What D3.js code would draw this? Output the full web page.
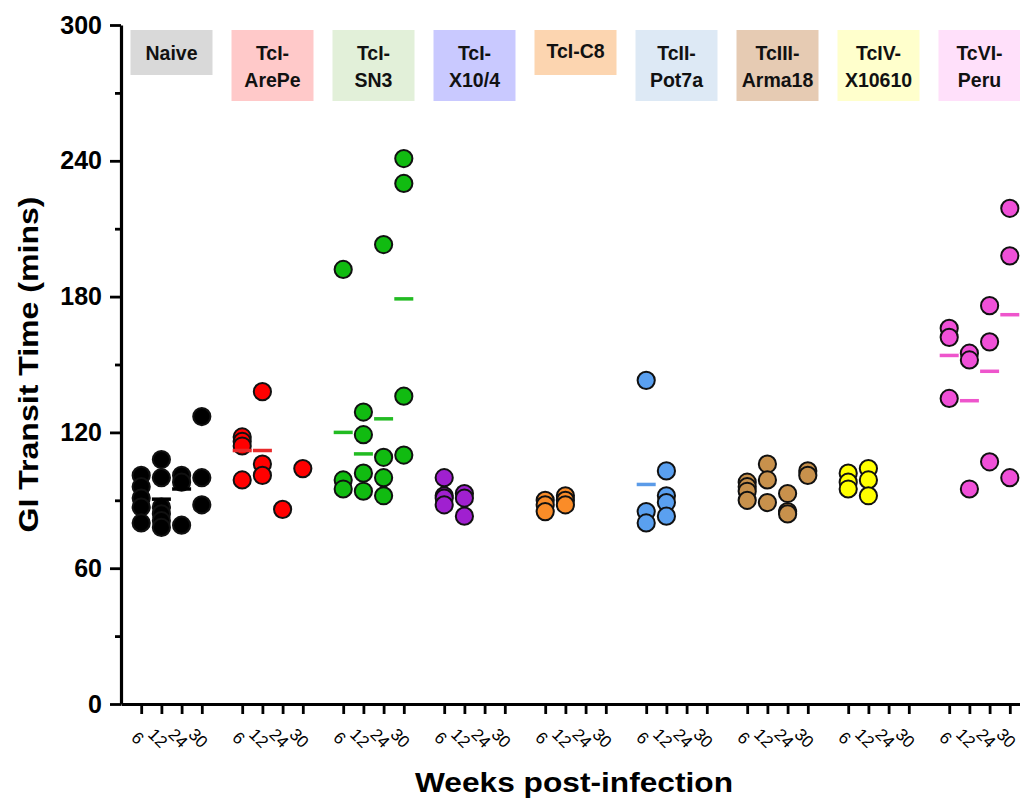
<!DOCTYPE html>
<html>
<head>
<meta charset="utf-8">
<script src="https://cdn.jsdelivr.net/npm/d3@7"></script>
<style>
  body { margin: 0; background: #fff; }
  svg { display: block; font-family: "Liberation Sans", Arial, Helvetica, sans-serif; }
</style>
</head>
<body>
<div id="chart"></div>
<script>
// week labels under each group, and the strain groups
var weeks = ["6", "12", "24", "30"];
var groupLines = [["Naive"], ["TcI-", "ArePe"], ["TcI-", "SN3"], ["TcI-", "X10/4"], ["TcI-C8"],
                  ["TcII-", "Pot7a"], ["TcIII-", "Arma18"], ["TcIV-", "X10610"], ["TcVI-", "Peru"]];
var boxColors = ["#d9d9d9", "#ffc9c9", "#e2f0d9", "#c9c9ff", "#fcd5b0", "#dde9f5", "#e6cbb3", "#ffffcc", "#ffe0fa"];
var dotColors = ["#000000", "#ff0000", "#11bb11", "#a020d0", "#fa8c28", "#5aa0f0", "#c8914c", "#ffff00", "#f050d8"];
var lineColors = ["#000000", "#e8292a", "#22bb22", "#a020d0", "#fa8c28", "#5b9be8", "#c8914c", "#e6e600", "#ee55cc"];

var yMajor = [0, 60, 120, 180, 240, 300];
var yMinor = [30, 90, 150, 210, 270];

// GI transit time (mins), one list per week: 6, 12, 24, 30
var naive  = [[101, 96, 91, 87, 80], [108, 100, 87, 84, 81, 78], [101, 98, 79], [127, 100, 88]];
var arePe  = [[118, 116, 114, 99], [138, 106, 101], [86], [104]];
var sn3    = [[192, 99, 95], [129, 119, 102, 94], [203, 109, 100, 92], [241, 230, 136, 110]];
var x104   = [[100, 92, 91, 88], [93, 91, 83], [], []];
var c8     = [[90, 88, 85], [92, 90, 88], [], []];
var pot7a  = [[143, 85, 80], [103, 92, 89, 83], [], []];
var arma18 = [[98, 96, 94, 90], [106, 99, 89], [93, 85, 84], [103, 101]];
var x10610 = [[102, 98, 95], [104, 99, 92], [], []];
var peru   = [[166, 162, 135], [155, 152, 95], [176, 160, 107], [219, 198, 100]];

// group means as drawn (null where no bar is visible)
var naiveMeans  = [null, 90.5, 95, null];
var arePeMeans  = [112, 112, null, null];
var sn3Means    = [120, 110.5, 126, 179];
var pot7aMeans  = [97, null, null, null];
var peruMeans   = [154, 134, 147, 172];
var noMeans     = [null, null, null, null];

var allGroups = [naive, arePe, sn3, x104, c8, pot7a, arma18, x10610, peru];
var allMeans = [naiveMeans, arePeMeans, sn3Means, noMeans, noMeans, pot7aMeans, noMeans, noMeans, peruMeans];

var width = 1020, height = 802;

var svg = d3.select("#chart").append("svg")
    .attr("width", width)
    .attr("height", height);

svg.append("rect").attr("width", width).attr("height", height).attr("fill", "#fff");

// 5 slots per group: 4 weeks + a gap
var x = d3.scaleLinear().domain([-1, 44]).range([121, 1030]);
var y = d3.scaleLinear().domain([0, 300]).range([704, 25]);

function pos(g, w) { return g * 5 + w; }

var points = [];
var means = [];
allGroups.forEach(function(group, g) {
    group.forEach(function(vals, w) {
        vals.forEach(function(v) { points.push({ g: g, w: w, v: v }); });
        if (allMeans[g][w] != null) means.push({ g: g, w: w, v: allMeans[g][w] });
    });
});

// legend boxes on top
var boxes = svg.selectAll(".box")
    .data(groupLines)
    .enter().append("g")
    .attr("class", "box");

boxes.append("rect")
    .attr("x", function(d, i) { return x(pos(i, 1.5)) - 41; })
    .attr("y", 30)
    .attr("width", 82)
    .attr("height", function(d) { return d.length == 1 ? 45 : 71; })
    .attr("fill", function(d, i) { return boxColors[i]; });

boxes.each(function(lines, i) {
    var cx = x(pos(i, 1.5));
    d3.select(this).selectAll("text")
        .data(lines)
        .enter().append("text")
        .attr("x", cx)
        .attr("y", function(d, j) { return (lines.length == 1 && i == 4 ? 58 : 60) + j * 27; })
        .attr("text-anchor", "middle")
        .attr("font-size", "19.5px")
        .attr("font-weight", "bold")
        .attr("fill", "#111")
        .text(function(d) { return d; });
});

// y axis
var yAxis = svg.append("g")
    .attr("transform", "translate(" + x(-1) + ",0)")
    .call(d3.axisLeft(y).tickValues(yMajor).tickSize(11).tickSizeOuter(0).tickPadding(8));
yAxis.select(".domain").attr("stroke-width", 3.2);
yAxis.selectAll(".tick line").attr("stroke-width", 2.8);
yAxis.selectAll("text")
    .attr("font-size", "25px")
    .attr("font-weight", "bold")
    .attr("font-family", "Liberation Sans, Arial, sans-serif")
    .attr("fill", "#000");

var yMinorAxis = svg.append("g")
    .attr("transform", "translate(" + x(-1) + ",0)")
    .call(d3.axisLeft(y).tickValues(yMinor).tickSize(6).tickSizeOuter(0).tickFormat(""));
yMinorAxis.select(".domain").remove();
yMinorAxis.selectAll(".tick line").attr("stroke-width", 2.8);

// x axis
var tickPos = [];
for (var g = 0; g < groupLines.length; g++) {
    for (var w = 0; w < weeks.length; w++) tickPos.push(pos(g, w));
}

var xAxis = svg.append("g")
    .attr("transform", "translate(0," + y(0) + ")")
    .call(d3.axisBottom(x).tickValues(tickPos).tickSize(10).tickSizeOuter(0)
        .tickFormat(function(d) { return weeks[d % 5]; }));
xAxis.select(".domain").attr("stroke-width", 3.2);
xAxis.selectAll(".tick line").attr("stroke-width", 2.8);
xAxis.selectAll("text")
    .attr("y", 0)
    .attr("dy", "0.35em")
    .attr("transform", "translate(-4,34) rotate(45)")
    .attr("text-anchor", "middle")
    .attr("font-size", "17px")
    .attr("font-family", "Liberation Sans, Arial, sans-serif")
    .attr("fill", "#000");

// dots
svg.selectAll(".dot")
    .data(points)
    .enter().append("circle")
    .attr("class", "dot")
    .attr("cx", function(d) { return x(pos(d.g, d.w)); })
    .attr("cy", function(d) { return y(d.v); })
    .attr("r", 8.6)
    .attr("fill", function(d) { return dotColors[d.g]; })
    .attr("stroke", "#111")
    .attr("stroke-width", 2);

// mean bars
svg.selectAll(".mean")
    .data(means)
    .enter().append("line")
    .attr("class", "mean")
    .attr("x1", function(d) { return x(pos(d.g, d.w)) - 9.5; })
    .attr("x2", function(d) { return x(pos(d.g, d.w)) + 9.5; })
    .attr("y1", function(d) { return y(d.v); })
    .attr("y2", function(d) { return y(d.v); })
    .attr("stroke", function(d) { return lineColors[d.g]; })
    .attr("stroke-width", 3.5);

// axis titles
svg.append("text")
    .attr("transform", "translate(38," + ((y(0) + y(300)) / 2) + ") rotate(-90)")
    .attr("text-anchor", "middle")
    .attr("font-size", "28px")
    .attr("font-weight", "bold")
    .attr("textLength", 336)
    .attr("lengthAdjust", "spacingAndGlyphs")
    .text("GI Transit Time (mins)");

svg.append("text")
    .attr("x", 574)
    .attr("y", 792)
    .attr("text-anchor", "middle")
    .attr("font-size", "28px")
    .attr("font-weight", "bold")
    .attr("textLength", 318)
    .attr("lengthAdjust", "spacingAndGlyphs")
    .text("Weeks post-infection");
</script>
</body>
</html>
